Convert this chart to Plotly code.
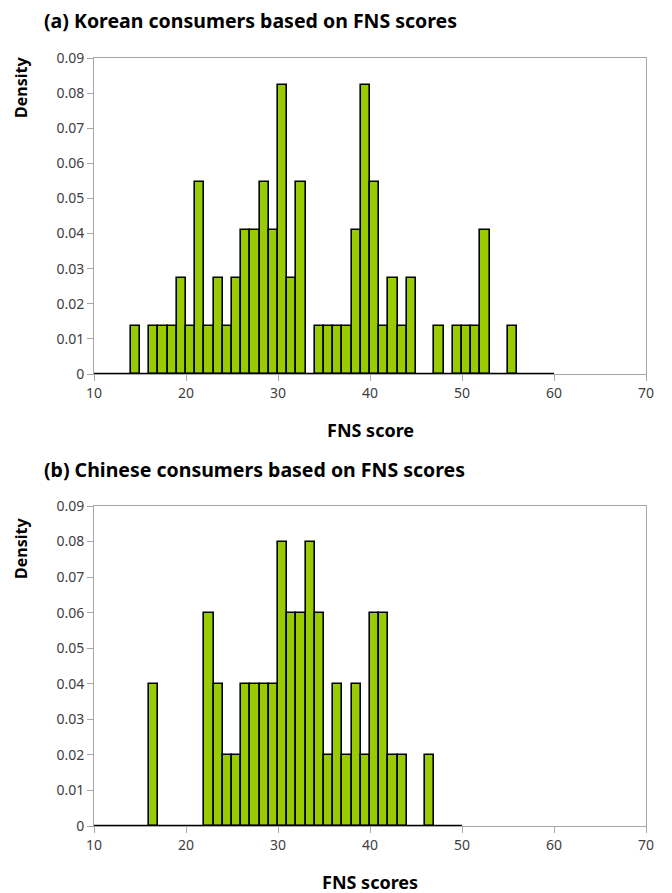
import plotly.graph_objects as go

# ---- data ----
# (a) Korean consumers: bin start (width 1) and density
korean_bins = [14, 16, 17, 18, 19, 20, 21, 22, 23, 24, 25, 26, 27, 28, 29, 30, 31, 32,
               34, 35, 36, 37, 38, 39, 40, 41, 42, 43, 44, 47, 49, 50, 51, 52, 55]
korean_density = [0.0137, 0.0137, 0.0137, 0.0137, 0.0274, 0.0137, 0.0548, 0.0137, 0.0274,
                  0.0137, 0.0274, 0.0411, 0.0411, 0.0548, 0.0411, 0.0822, 0.0274, 0.0548,
                  0.0137, 0.0137, 0.0137, 0.0137, 0.0411, 0.0822, 0.0548, 0.0137, 0.0274,
                  0.0137, 0.0274, 0.0137, 0.0137, 0.0137, 0.0137, 0.0411, 0.0137]
korean_range = [10, 60]

# (b) Chinese consumers
chinese_bins = [16, 22, 23, 24, 25, 26, 27, 28, 29, 30, 31, 32, 33, 34, 35, 36, 37, 38,
                39, 40, 41, 42, 43, 46]
chinese_density = [0.04, 0.06, 0.04, 0.02, 0.02, 0.04, 0.04, 0.04, 0.04, 0.08, 0.06, 0.06,
                   0.08, 0.06, 0.02, 0.04, 0.02, 0.04, 0.02, 0.06, 0.06, 0.02, 0.02, 0.02]
chinese_range = [10, 50]

x_ticks = [10, 20, 30, 40, 50, 60, 70]
titles = ["(a) Korean consumers based on FNS scores", "(b) Chinese consumers based on FNS scores"]
x_titles = ["FNS score", "FNS scores"]
y_title = "Density"

# the page body has an 8px margin: size the figure to the remaining viewport
OFF = 8
W, H = 672 - OFF, 893 - OFF
FONT = "Noto Sans"
BAR_COLOR = "#99CC00"


def fx(px):
    return (px - OFF) / W


def fy(py):
    return 1 - (py - OFF) / H


fig = go.Figure()

panels = [
    (korean_bins, korean_density, korean_range, "x", "y"),
    (chinese_bins, chinese_density, chinese_range, "x2", "y2"),
]
for bins, dens, rng, xa, ya in panels:
    fig.add_trace(go.Bar(
        x=bins, y=dens, width=1, offset=0,
        marker=dict(color=BAR_COLOR, line=dict(color="black", width=1.6)),
        xaxis=xa, yaxis=ya, showlegend=False, hoverinfo="x+y",
    ))
    fig.add_trace(go.Scatter(
        x=rng, y=[0, 0], mode="lines", line=dict(color="black", width=2.4),
        xaxis=xa, yaxis=ya, showlegend=False, hoverinfo="skip", cliponaxis=False,
    ))

xdom = [fx(94), fx(646)]
ydoms = [[fy(374), fy(58)], [fy(826), fy(506)]]

axis_common = dict(showline=True, linecolor="#A6A6A6", linewidth=1, mirror=True,
                   showgrid=False, zeroline=False, ticks="outside", tickcolor="#A6A6A6",
                   ticklen=6, automargin=False, layer="below traces",
                   tickfont=dict(family=FONT, size=14, color="#404040"))

layout = dict(
    template="none",
    width=W, height=H, margin=dict(l=0, r=0, t=0, b=0, pad=0),
    paper_bgcolor="white", plot_bgcolor="white", bargap=0,
    font=dict(family=FONT), showlegend=False,
)
for i, (xa, ya) in enumerate([("xaxis", "yaxis"), ("xaxis2", "yaxis2")]):
    anchor_y = "y" if i == 0 else "y2"
    anchor_x = "x" if i == 0 else "x2"
    layout[xa] = dict(axis_common, domain=xdom, anchor=anchor_y, range=[10, 70],
                      tickvals=x_ticks, ticktext=[str(t) for t in x_ticks])
    layout[ya] = dict(axis_common, domain=ydoms[i], anchor=anchor_x, range=[0, 0.09],
                      dtick=0.01, tick0=0, ticklen=6)
fig.update_layout(**layout)

annots = []
title_y = [21, 469]
xtitle_y = [430, 882]
ytitle_y = [88, 549]
for i in range(2):
    annots.append(dict(text="<b>" + titles[i] + "</b>", x=fx(42), y=fy(title_y[i]),
                       xref="paper", yref="paper", xanchor="left", yanchor="middle",
                       showarrow=False, font=dict(family=FONT, size=19.5, color="black")))
    annots.append(dict(text="<b>" + x_titles[i] + "</b>", x=fx(370), y=fy(xtitle_y[i]),
                       xref="paper", yref="paper", xanchor="center", yanchor="middle",
                       showarrow=False, font=dict(family=FONT, size=18, color="black")))
    annots.append(dict(text="<b>" + y_title + "</b>", x=fx(21), y=fy(ytitle_y[i]),
                       xref="paper", yref="paper", xanchor="center", yanchor="middle",
                       textangle=-90, showarrow=False,
                       font=dict(family=FONT, size=16, color="black")))
fig.update_layout(annotations=annots)

fig.write_html("out.html")
